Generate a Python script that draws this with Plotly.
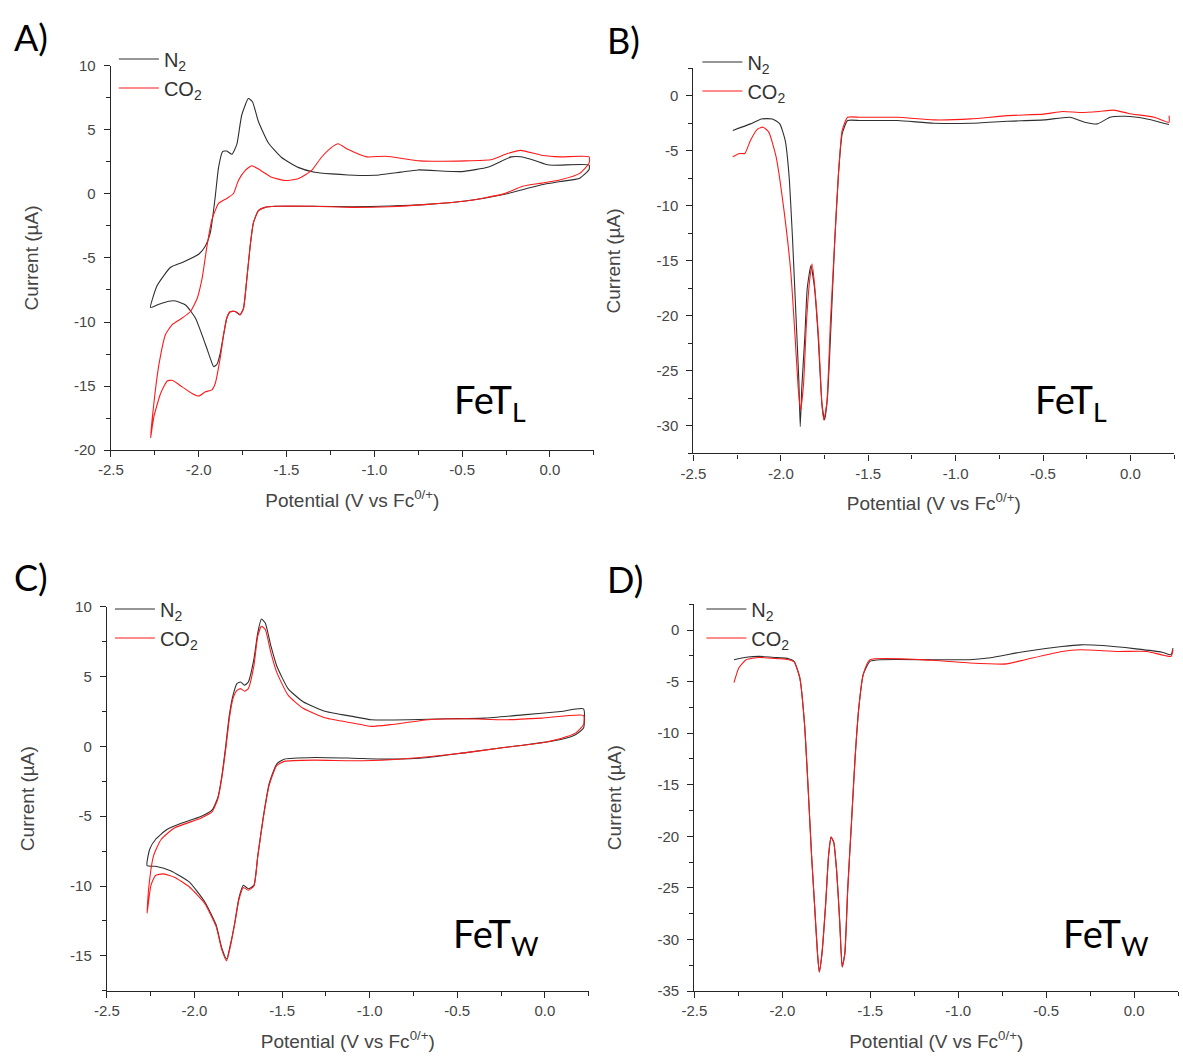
import plotly.graph_objects as go

W, H = 1183, 1062

# ---------------- DATA ----------------
# Panel A: CV, FeT_L
A_N2_x = [0.223, 0.17, 0.06, -0.048, -0.156, -0.264, -0.48, -0.697, -0.913, -1.13, -1.346, -1.563, -1.622, -1.66, -1.689, -1.707, -1.726, -1.745, -1.764, -1.792, -1.821, -1.84, -1.858, -1.877, -1.896, -1.915, -1.935, -1.962, -2.019, -2.075, -2.132, -2.17, -2.226, -2.274,
          -2.236, -2.16, -2.094, -2.0, -1.962, -1.934, -1.906, -1.887, -1.864, -1.84, -1.811, -1.783, -1.755, -1.717, -1.694, -1.66, -1.604, -1.528, -1.434, -1.34, -1.245, -1.151, -1.0, -0.85, -0.751, -0.502, -0.35, -0.221, -0.167, -0.091, -0.004, 0.223, 0.223]
A_N2_y = [1.9, 1.23, 0.97, 0.72, 0.33, -0.05, -0.56, -0.82, -0.95, -1.0, -0.97, -0.97, -1.05, -1.3, -2.28, -4.07, -6.62, -8.93, -9.44, -9.18, -9.2, -9.69, -10.97, -12.4, -13.3, -13.48, -12.8, -11.74, -9.69, -8.67, -8.36, -8.38, -8.62, -8.87,
          -7.14, -5.73, -5.35, -4.71, -4.07, -3.04, -0.23, 2.07, 3.3, 3.35, 3.09, 3.86, 6.16, 7.44, 7.19, 5.65, 3.99, 2.84, 2.07, 1.69, 1.56, 1.48, 1.45, 1.7, 1.87, 1.74, 2.1, 2.89, 2.9, 2.63, 2.25, 2.25, 1.9]
A_CO2_x = [0.223, 0.17, 0.06, -0.048, -0.156, -0.264, -0.48, -0.697, -0.913, -1.13, -1.346, -1.563, -1.622, -1.66, -1.689, -1.707, -1.726, -1.745, -1.764, -1.792, -1.821, -1.84, -1.858, -1.877, -1.906, -1.925, -1.962, -2.0, -2.038, -2.094, -2.151, -2.179, -2.217, -2.255, -2.274,
           -2.255, -2.226, -2.189, -2.151, -2.094, -2.047, -2.009, -1.981, -1.953, -1.925, -1.887, -1.84, -1.802, -1.774, -1.736, -1.698, -1.66, -1.585, -1.509, -1.434, -1.358, -1.302, -1.245, -1.206, -1.151, -1.043, -0.935, -0.74, -0.48, -0.329, -0.242, -0.167, -0.048, 0.06, 0.223, 0.223]
A_CO2_y = [2.4, 1.6, 1.1, 0.84, 0.59, 0.0, -0.56, -0.82, -1.0, -1.05, -0.97, -0.97, -1.05, -1.3, -2.28, -4.07, -6.62, -8.93, -9.44, -9.18, -9.2, -9.69, -10.97, -12.76, -14.8, -15.3, -15.45, -15.78, -15.58, -15.06, -14.55, -14.6, -15.58, -17.37, -19.03,
           -16.3, -13.27, -10.97, -10.2, -9.69, -9.18, -8.16, -6.62, -4.07, -2.02, -0.74, -0.36, 0.03, 1.05, 1.82, 2.2, 1.94, 1.3, 1.05, 1.18, 1.82, 2.84, 3.61, 3.91, 3.48, 2.89, 2.94, 2.58, 2.58, 2.69, 3.15, 3.4, 3.02, 2.89, 2.89, 2.4]

# Panel B: DPV, FeT_L
B_N2_x = [-2.275, -2.174, -2.111, -2.048, -2.006, -1.975, -1.954, -1.933, -1.912, -1.897, -1.889, -1.88, -1.863, -1.849, -1.828, -1.807, -1.786, -1.765, -1.75, -1.733, -1.712, -1.691, -1.67, -1.649, -1.618, -1.544, -1.334, -1.124, -0.914, -0.704, -0.494, -0.347, -0.262, -0.189, -0.116, -0.032, 0.095, 0.221]
B_N2_y = [-3.14, -2.54, -2.09, -2.09, -2.54, -4.04, -7.03, -13.01, -20.49, -25.87, -30.06, -26.47, -21.99, -17.5, -15.41, -17.5, -21.99, -27.97, -29.46, -27.37, -20.49, -13.01, -7.03, -3.44, -2.24, -2.24, -2.24, -2.48, -2.48, -2.3, -2.18, -1.94, -2.39, -2.54, -1.94, -1.85, -2.09, -2.6]
B_CO2_x = [-2.275, -2.237, -2.206, -2.174, -2.132, -2.101, -2.069, -2.027, -1.985, -1.943, -1.918, -1.901, -1.887, -1.87, -1.853, -1.834, -1.821, -1.805, -1.784, -1.765, -1.754, -1.737, -1.716, -1.691, -1.67, -1.649, -1.618, -1.544, -1.334, -1.124, -0.914, -0.704, -0.494, -0.389, -0.284, -0.179, -0.095, -0.011, 0.137, 0.221, 0.221]
B_CO2_y = [-5.53, -5.23, -5.23, -4.04, -2.99, -2.84, -3.29, -5.53, -10.02, -16.0, -21.99, -26.47, -28.57, -26.17, -20.49, -16.6, -15.26, -17.5, -21.99, -27.97, -29.46, -27.97, -20.49, -13.01, -7.03, -3.14, -1.94, -1.94, -1.94, -2.18, -2.09, -1.79, -1.65, -1.41, -1.5, -1.41, -1.29, -1.59, -1.94, -2.39, -1.79]

# Panel C: CV, FeT_W
C_N2_x = [0.221, 0.177, 0.091, -0.017, -0.233, -0.45, -0.666, -0.882, -1.099, -1.315, -1.488, -1.531, -1.574, -1.607, -1.639, -1.661, -1.693, -1.721, -1.747, -1.769, -1.795, -1.817, -1.845, -1.877, -1.942, -2.029, -2.137, -2.223, -2.271,
          -2.256, -2.223, -2.158, -2.072, -1.964, -1.899, -1.866, -1.845, -1.823, -1.801, -1.78, -1.758, -1.737, -1.715, -1.693, -1.661, -1.639, -1.618, -1.596, -1.564, -1.531, -1.466, -1.38, -1.25, -1.099, -0.99, -0.774, -0.558, -0.342, -0.125, 0.091, 0.221, 0.221]
C_N2_y = [1.31, 0.85, 0.49, 0.26, -0.09, -0.45, -0.8, -0.92, -0.85, -0.8, -0.92, -1.27, -2.68, -5.02, -7.84, -9.95, -10.19, -9.95, -10.89, -12.54, -14.18, -15.23, -14.41, -12.77, -11.13, -9.72, -8.9, -8.59, -8.54,
          -7.37, -6.67, -5.96, -5.49, -5.02, -4.55, -3.62, -2.21, -0.09, 2.25, 3.66, 4.48, 4.6, 4.37, 4.6, 6.24, 8.12, 9.11, 8.83, 7.18, 5.77, 4.13, 3.19, 2.49, 2.14, 1.9, 1.9, 1.97, 2.02, 2.25, 2.49, 2.68, 1.31]
C_CO2_x = [0.221, 0.177, 0.091, -0.017, -0.233, -0.45, -0.666, -0.882, -1.099, -1.315, -1.488, -1.531, -1.574, -1.607, -1.639, -1.661, -1.693, -1.721, -1.747, -1.769, -1.795, -1.817, -1.845, -1.877, -1.942, -2.029, -2.115, -2.18, -2.223, -2.249, -2.271,
           -2.262, -2.234, -2.191, -2.115, -1.964, -1.899, -1.866, -1.845, -1.823, -1.801, -1.78, -1.758, -1.737, -1.715, -1.693, -1.661, -1.639, -1.618, -1.596, -1.564, -1.531, -1.466, -1.38, -1.25, -1.099, -0.99, -0.882, -0.666, -0.45, -0.233, -0.017, 0.221, 0.221]
C_CO2_y = [1.55, 0.96, 0.56, 0.26, -0.09, -0.45, -0.75, -0.96, -1.03, -0.99, -1.08, -1.38, -2.79, -5.1, -7.9, -10.0, -10.3, -10.1, -11.0, -12.6, -14.3, -15.35, -14.53, -12.89, -11.24, -10.07, -9.37, -9.13, -9.25, -9.95, -11.95,
           -10.19, -7.84, -6.67, -5.85, -5.14, -4.67, -3.74, -2.32, -0.33, 2.02, 3.43, 4.01, 4.13, 3.94, 4.13, 5.77, 7.89, 8.59, 8.36, 6.71, 5.31, 3.66, 2.72, 2.02, 1.67, 1.43, 1.55, 1.9, 1.97, 1.9, 2.02, 2.21, 1.55]

# Panel D: DPV, FeT_W
D_N2_x = [-2.275, -2.195, -2.132, -2.048, -1.964, -1.933, -1.901, -1.874, -1.853, -1.834, -1.817, -1.8, -1.79, -1.775, -1.754, -1.737, -1.723, -1.708, -1.691, -1.674, -1.66, -1.645, -1.628, -1.607, -1.586, -1.565, -1.54, -1.502, -1.439, -1.145, -0.935, -0.83, -0.62, -0.41, -0.305, -0.179, 0.011, 0.158, 0.21, 0.221]
D_N2_y = [-2.87, -2.61, -2.55, -2.65, -2.77, -3.03, -4.62, -9.09, -15.46, -21.84, -26.62, -31.4, -33.15, -31.4, -26.62, -21.84, -20.08, -20.56, -23.43, -28.21, -32.67, -31.4, -25.02, -18.65, -12.27, -7.49, -4.3, -3.03, -2.87, -2.87, -2.87, -2.71, -2.07, -1.59, -1.43, -1.5, -1.82, -2.14, -2.39, -1.75]
D_CO2_x = [-2.275, -2.248, -2.206, -2.132, -2.027, -1.964, -1.933, -1.901, -1.874, -1.853, -1.834, -1.817, -1.8, -1.79, -1.775, -1.754, -1.737, -1.723, -1.708, -1.691, -1.674, -1.66, -1.645, -1.628, -1.607, -1.586, -1.565, -1.54, -1.502, -1.145, -0.935, -0.725, -0.62, -0.41, -0.305, -0.095, 0.074, 0.21, 0.221]
D_CO2_y = [-5.1, -3.67, -2.87, -2.65, -2.77, -2.87, -3.09, -4.62, -9.09, -15.46, -21.84, -26.62, -31.4, -33.15, -31.4, -26.62, -21.84, -20.08, -20.56, -23.43, -28.21, -32.67, -31.4, -25.02, -18.65, -12.27, -7.49, -4.3, -2.87, -2.93, -3.19, -3.28, -2.87, -2.07, -1.91, -2.07, -2.07, -2.55, -1.91]

# Tick labels
x_ticks = [-2.5, -2.0, -1.5, -1.0, -0.5, 0.0]
x_ticklabels = ["-2.5", "-2.0", "-1.5", "-1.0", "-0.5", "0.0"]
yA_ticks = [10, 5, 0, -5, -10, -15, -20]
yB_ticks = [0, -5, -10, -15, -20, -25, -30]
yC_ticks = [10, 5, 0, -5, -10, -15]
yD_ticks = [0, -5, -10, -15, -20, -25, -30, -35]

series_names = ["N<sub>2</sub>", "CO<sub>2</sub>"]
panel_letters = ["A)", "B)", "C)", "D)"]
panel_tags = ["FeT<sub>L</sub>", "FeT<sub>L</sub>", "FeT<sub>W</sub>", "FeT<sub>W</sub>"]

# ---------------- LAYOUT ----------------
def px(x):
    return x / W

def py(y):
    return 1 - y / H

N2_COLOR = "#2f2f2f"
CO2_COLOR = "#ff1a1a"
AX_COLOR = "#262626"
TICK_FONT = dict(family="Liberation Sans, Arial, sans-serif", size=15, color="#454545")
TITLE_FONT = dict(family="Liberation Sans, Arial, sans-serif", size=19, color="#454545")

panels = [
    # (xdata_n2, ydata_n2, xdata_co2, ydata_co2, xdom px, ydom px(top,bottom), yrange, yticks)
    (A_N2_x, A_N2_y, A_CO2_x, A_CO2_y, (99, 587.3), (57.7, 448.3), (-20, 10), yA_ticks),
    (B_N2_x, B_N2_y, B_CO2_x, B_CO2_y, (688, 1174), (60.4, 451.7), (-32.5, 2.5), yB_ticks),
    (C_N2_x, C_N2_y, C_CO2_x, C_CO2_y, (95, 582), (607.3, 997.8), (-17.5, 10), yC_ticks),
    (D_N2_x, D_N2_y, D_CO2_x, D_CO2_y, (689, 1178), (605, 998), (-35, 2.5), yD_ticks),
]

fig = go.Figure()
layout = dict(
    width=W, height=H,
    margin=dict(l=0, r=0, t=0, b=0),
    paper_bgcolor="white", plot_bgcolor="white",
    annotations=[],
)

legend_names = ["legend", "legend2", "legend3", "legend4"]
legend_pos = [(102, 31), (692, 34), (98, 590), (696, 590)]
letter_pos = [(-1, 28), (599, 31), (-1, 577), (599, 579)]
tag_pos = [(482, 399), (1070, 399), (488, 942), (1105, 942)]

for i, (xn, yn, xc, yc, xd, yd, yr, yt) in enumerate(panels):
    k = "" if i == 0 else str(i + 1)
    xa, ya = "x" + k, "y" + k
    lg = legend_names[i]
    fig.add_trace(go.Scatter(x=xn, y=yn, mode="lines", name=series_names[0],
                             line=dict(color=N2_COLOR, width=1.1, shape="spline", smoothing=0.5),
                             xaxis=xa, yaxis=ya, legend=lg))
    fig.add_trace(go.Scatter(x=xc, y=yc, mode="lines", name=series_names[1],
                             line=dict(color=CO2_COLOR, width=1.1, shape="spline", smoothing=0.5),
                             xaxis=xa, yaxis=ya, legend=lg))
    common = dict(showgrid=False, zeroline=False, showline=True, linecolor=AX_COLOR, linewidth=1.4,
                  ticks="outside", ticklen=6, tickwidth=1.3, tickcolor=AX_COLOR, tickfont=TICK_FONT,
                  mirror=False)
    layout["xaxis" + k] = dict(
        common, domain=[px(xd[0]), px(xd[1])], range=[-2.5, 0.25], anchor=ya,
        tickmode="array", tickvals=x_ticks, ticktext=x_ticklabels,
        minor=dict(ticks="outside", ticklen=4, tickwidth=1.2, tickcolor=AX_COLOR, dtick=0.25, tick0=-2.5),
        title=dict(text="Potential (V vs Fc<sup>0/+</sup>)", font=TITLE_FONT, standoff=16),
    )
    layout["yaxis" + k] = dict(
        common, domain=[py(yd[1]), py(yd[0])], range=list(yr), anchor=xa,
        tickmode="array", tickvals=yt, ticktext=[str(v) for v in yt],
        ticklabelstandoff=5,
        minor=dict(ticks="outside", ticklen=4, tickwidth=1.2, tickcolor=AX_COLOR, dtick=2.5, tick0=0),
        title=dict(text="Current (µA)", font=TITLE_FONT, standoff=30),
        automargin=True,
    )
    lx, ly = legend_pos[i]
    layout[lg] = dict(x=px(lx), y=py(ly), xanchor="left", yanchor="top", bgcolor="rgba(0,0,0,0)",
                      font=dict(family="Liberation Sans, Arial, sans-serif", size=20, color="#333333"),
                      tracegroupgap=0, itemwidth=40)
    ax, ay = letter_pos[i]
    layout["annotations"].append(dict(x=px(ax), y=py(ay), xref="paper", yref="paper", text=panel_letters[i],
                                      showarrow=False, xanchor="left", yanchor="middle",
                                      font=dict(family="Lato, Open Sans, sans-serif", size=36, color="black")))
    tx, ty = tag_pos[i]
    layout["annotations"].append(dict(x=px(tx), y=py(ty), xref="paper", yref="paper", text=panel_tags[i],
                                      showarrow=False, xanchor="center", yanchor="middle",
                                      font=dict(family="Lato, Open Sans, sans-serif", size=38, color="black")))

fig.update_layout(**layout)
fig.update_layout(showlegend=True)
fig.write_html("out.html")
